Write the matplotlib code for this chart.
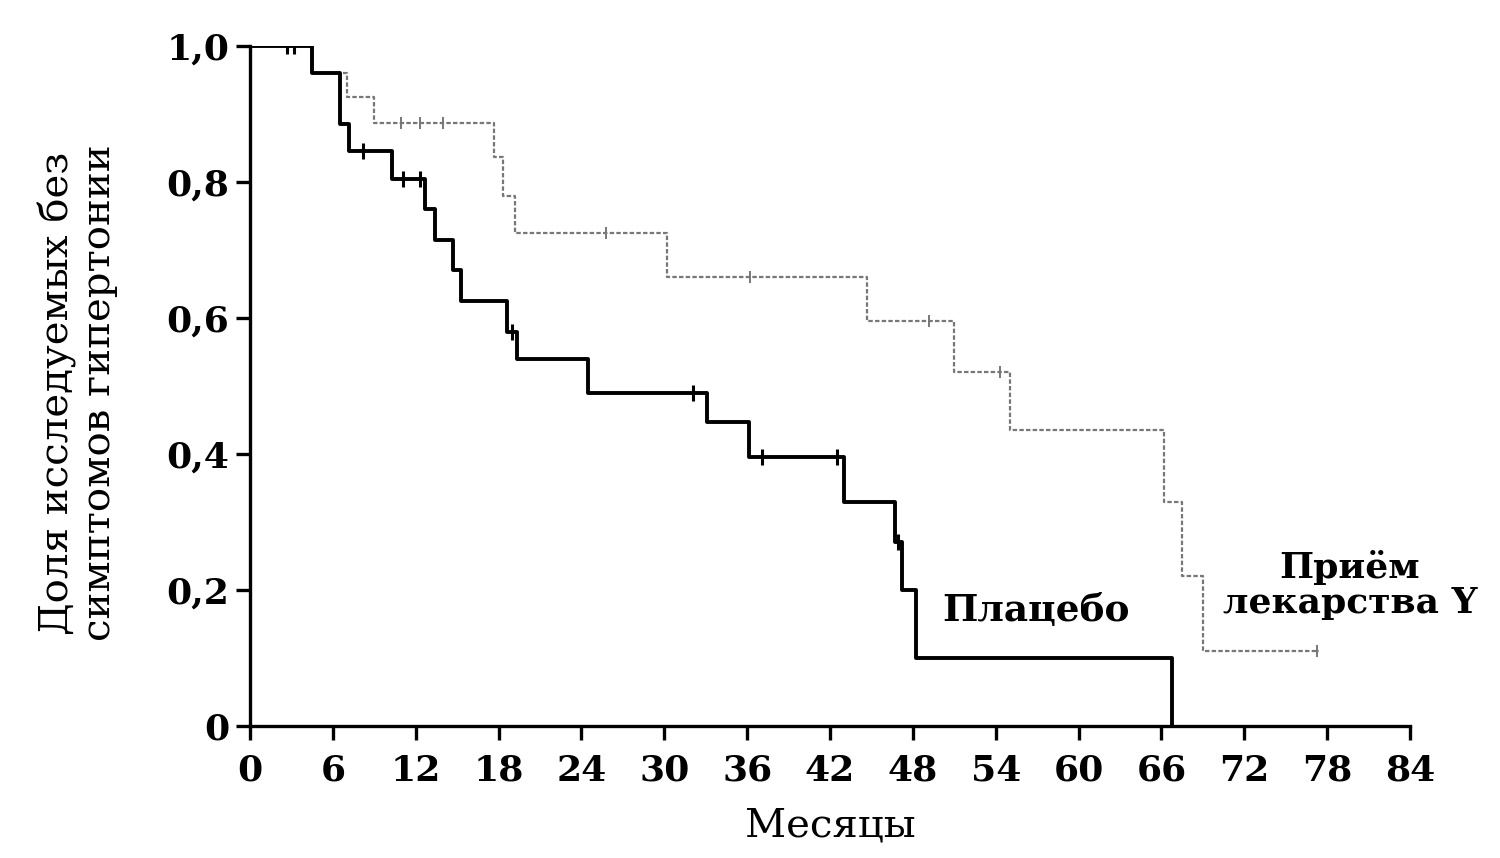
import matplotlib
matplotlib.use("Agg")
import matplotlib.pyplot as plt

# Плацебо: моменты событий (месяцы) и доля без симптомов
placebo_t = [0, 4.5, 6.5, 7.2, 10.3, 12.7, 13.4, 14.7, 15.3, 18.6, 19.3,
             24.5, 33.1, 36.1, 43.0, 46.7, 47.2, 48.2, 66.8]
placebo_s = [1.0, 0.96, 0.885, 0.845, 0.805, 0.76, 0.715, 0.67, 0.625, 0.58,
             0.54, 0.49, 0.447, 0.395, 0.33, 0.27, 0.20, 0.10, 0.0]
placebo_cens_t = [2.7, 3.2, 8.2, 11.1, 12.3, 19.0, 32.1, 37.1, 42.5, 46.9]
placebo_cens_s = [1.0, 1.0, 0.845, 0.805, 0.805, 0.58, 0.49, 0.395, 0.395, 0.27]

# Приём лекарства Y
drug_t = [0, 4.5, 7.0, 9.0, 17.7, 18.3, 19.2, 30.2, 44.7, 51.0, 55.0,
          66.2, 67.5, 69.0, 77.4]
drug_s = [1.0, 0.96, 0.925, 0.887, 0.837, 0.78, 0.725, 0.66, 0.595, 0.52,
          0.435, 0.33, 0.22, 0.11, 0.11]
drug_cens_t = [10.9, 12.3, 14.0, 25.8, 36.2, 49.2, 54.3, 77.3]
drug_cens_s = [0.887, 0.887, 0.887, 0.725, 0.66, 0.595, 0.52, 0.11]

x_ticks = list(range(0, 85, 6))
y_ticks = [0, 0.2, 0.4, 0.6, 0.8, 1.0]
y_tick_labels = ["0", "0,2", "0,4", "0,6", "0,8", "1,0"]

plt.rcParams['font.family'] = ['DejaVu Serif']

fig = plt.figure(figsize=(15, 8.58), dpi=100)
ax = fig.add_axes([250/1500, 1 - 726/858, 1160/1500, 680/858])

ax.step(drug_t, drug_s, where='post', color='#777777', lw=1.6,
        linestyle=(0, (2, 1)), zorder=2)
ax.plot(drug_cens_t, drug_cens_s, linestyle='none', marker='|',
        color='#777777', markersize=9, markeredgewidth=1.4, zorder=2)

ax.step(placebo_t, placebo_s, where='post', color='black', lw=2.8, zorder=3)
ax.plot(placebo_cens_t, placebo_cens_s, linestyle='none', marker='|',
        color='black', markersize=11, markeredgewidth=2.2, zorder=3)

ax.set_xlim(0, 84)
ax.set_ylim(0, 1.0)
ax.set_xticks(x_ticks)
ax.set_yticks(y_ticks)
ax.set_yticklabels(y_tick_labels)

for side in ['top', 'right']:
    ax.spines[side].set_visible(False)
for side in ['left', 'bottom']:
    ax.spines[side].set_linewidth(2.4)

ax.tick_params(axis='both', direction='out', length=10, width=2.4,
               labelsize=26, pad=5)
ax.tick_params(axis='x', pad=10)
for lbl in ax.get_xticklabels() + ax.get_yticklabels():
    lbl.set_fontweight('bold')

ax.set_xlabel("Месяцы", fontsize=29, labelpad=14)
fig.text(0.052, 1 - 393/858,
         "Доля исследуемых без\nсимптомов гипертонии",
         rotation=90, fontsize=29, ha='center', va='center',
         linespacing=1.15)

fig.text(1036/1500, 1 - 610/858, "Плацебо", fontsize=27, fontweight='bold',
         ha='center', va='center')
fig.text(1350/1500, 1 - 585/858, "Приём\nлекарства Y", fontsize=26,
         fontweight='bold', ha='center', va='center', linespacing=1.05)

fig.savefig("out.png", dpi=100)
